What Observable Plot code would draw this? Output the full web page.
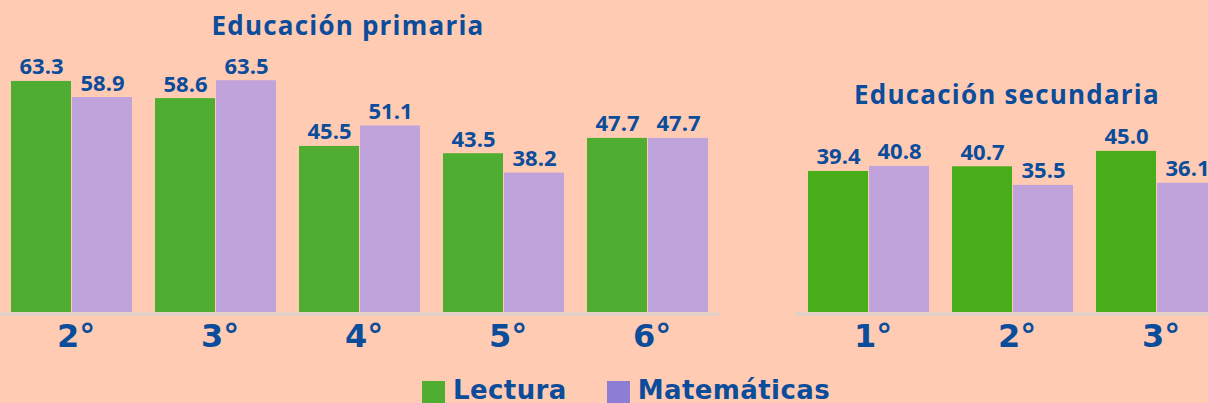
<!DOCTYPE html>
<html><head><meta charset="utf-8">
<script src="https://cdn.jsdelivr.net/npm/d3@7"></script>
<script src="https://cdn.jsdelivr.net/npm/@observablehq/plot@0.6"></script>
<style>
html,body{margin:0;padding:0;background:#FFCBB3;}
#chart{position:relative;width:1208px;height:403px;overflow:hidden;background:#FFCBB3;font-family:"Open Sans",Lato,sans-serif;color:#0B4C9B;}
.title{position:absolute;font-family:"Open Sans",sans-serif;font-weight:700;font-size:26px;line-height:30px;text-align:center;white-space:nowrap;letter-spacing:1.2px;}
.panel{position:absolute;top:45px;}
#legend{position:absolute;top:380px;left:422px;display:flex;align-items:flex-start;font-family:"DejaVu Sans",sans-serif;font-weight:700;font-size:26px;line-height:20px;white-space:nowrap;}
.sw{width:23px;height:23px;margin-top:1px;margin-right:8px;flex:none;}
.item{display:flex;align-items:flex-start;margin-right:40px;}
.item span{letter-spacing:0.4px;}
</style></head>
<body><div id="chart"></div>
<script>
const primariaGrades = ["2°","3°","4°","5°","6°"];
const primariaLectura = [63.3, 58.6, 45.5, 43.5, 47.7];
const primariaMatematicas = [58.9, 63.5, 51.1, 38.2, 47.7];
const secundariaGrades = ["1°","2°","3°"];
const secundariaLectura = [39.4, 40.7, 45.0];
const secundariaMatematicas = [40.8, 35.5, 36.1];
const subjects = ["Lectura", "Matemáticas"];
const panelTitles = ["Educación primaria", "Educación secundaria"];

const blue = "#0B4C9B";
const purple = "#C1A3DB";
const chart = document.getElementById("chart");

function panel(grades, lect, mat, o) {
  const rows = grades.map((g, i) => ({grade: g, lectura: lect[i], matematicas: mat[i]}));
  const txt = {fontSize: 22, fontWeight: 700, fill: blue, lineAnchor: "bottom", dy: -7, fontFamily: "'Open Sans', sans-serif"};
  return Plot.plot({
    width: o.width, height: 317,
    marginLeft: 0, marginRight: 0, marginTop: o.marginTop, marginBottom: 50,
    style: {background: "transparent", overflow: "visible", fontFamily: "'Open Sans', sans-serif"},
    x: {domain: grades, paddingInner: 23/144, paddingOuter: o.po, axis: null},
    y: {domain: [0, 70], axis: null},
    marks: [
      Plot.barY(rows, {x: "grade", y: "lectura", fill: o.green, insetRight: 61}),
      Plot.barY(rows, {x: "grade", y: "matematicas", fill: purple, insetLeft: 61}),
      Plot.ruleY([0], {stroke: "#DCD2CC", strokeWidth: 3, dy: 1.5}),
      Plot.text(rows, {x: "grade", y: "lectura", text: d => d.lectura.toFixed(1), dx: -30.5, ...txt}),
      Plot.text(rows, {x: "grade", y: "matematicas", text: d => d.matematicas.toFixed(1), dx: 30.5, ...txt}),
      Plot.text(rows, {x: "grade", text: "grade", frameAnchor: "bottom", dy: 24, dx: 4, lineAnchor: "middle", fontSize: 32, fontWeight: 700, fontFamily: "'DejaVu Sans', sans-serif", fill: blue})
    ]
  });
}

const p1 = panel(primariaGrades, primariaLectura, primariaMatematicas,
  {width: 719, po: 11/144, marginTop: 267 - 70*3.65, green: "#4FAE32"});
p1.classList.add("panel"); p1.style.left = "0px";
chart.appendChild(p1);

const p2 = panel(secundariaGrades, secundariaLectura, secundariaMatematicas,
  {width: 435, po: 13/144, marginTop: 267 - 70*3.58, green: "#47AD18"});
p2.classList.add("panel"); p2.style.left = "795px";
chart.appendChild(p2);

const t1 = document.createElement("div");
t1.className = "title"; t1.textContent = panelTitles[0];
t1.style.left = "0px"; t1.style.width = "696px"; t1.style.top = "10px";
chart.appendChild(t1);
const t2 = document.createElement("div");
t2.className = "title"; t2.textContent = panelTitles[1];
t2.style.left = "807px"; t2.style.width = "400px"; t2.style.top = "79px";
chart.appendChild(t2);

const legend = document.createElement("div");
legend.id = "legend";
const legendColors = ["#4FAE32", "#8E7DD4"];
subjects.forEach((s, i) => {
  const it = document.createElement("div"); it.className = "item";
  const sw = document.createElement("div"); sw.className = "sw"; sw.style.background = legendColors[i];
  const tx = document.createElement("span"); tx.textContent = s;
  it.appendChild(sw); it.appendChild(tx); legend.appendChild(it);
});
chart.appendChild(legend);
</script>
</body></html>
